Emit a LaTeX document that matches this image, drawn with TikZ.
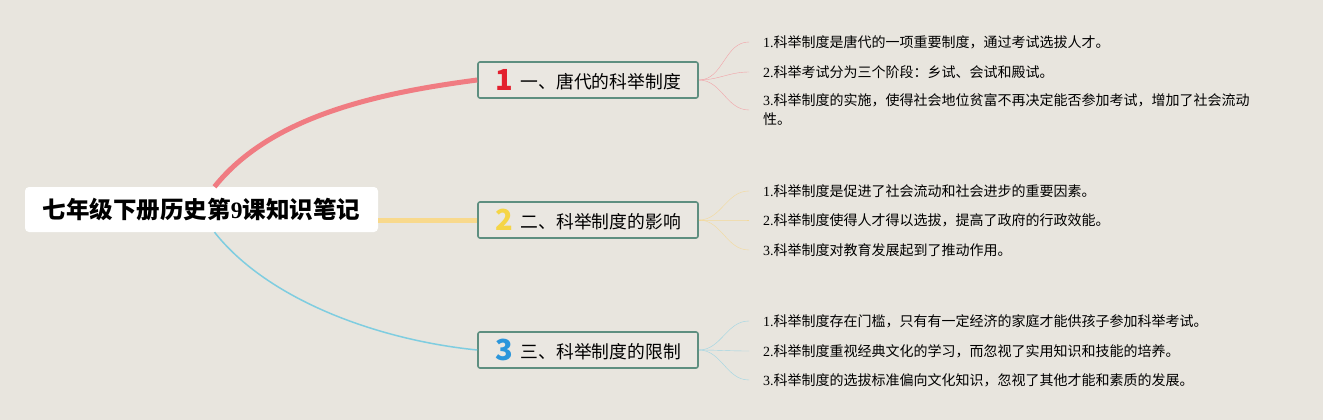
\documentclass[tikz,border=0pt]{standalone}
\usepackage{fontspec}
\setmainfont{Liberation Serif}
\newfontfamily\cjk{Noto Sans CJK SC}
\usepackage{tikz}
\usetikzlibrary{arrows.meta}

\definecolor{bg}{HTML}{E8E5DE}
\definecolor{boxfill}{HTML}{EAE7E1}
\definecolor{boxline}{HTML}{5E8F80}
\definecolor{lred}{HTML}{F07C82}
\definecolor{lyellow}{HTML}{F8D98C}
\definecolor{lblue}{HTML}{7FCDE0}
\definecolor{fred}{HTML}{F2A3A8}
\definecolor{fyellow}{HTML}{F4D99A}
\definecolor{fblue}{HTML}{9DD5E4}
\definecolor{nred}{HTML}{E3202E}
\definecolor{nyellow}{HTML}{F5D546}
\definecolor{nblue}{HTML}{2B96DB}

\newcommand\nb[2]{\raisebox{-2pt}{\fontsize{29}{29}\selectfont\bfseries\color{#1}#2}\hspace{8pt}}

\begin{document}
\begin{tikzpicture}[x=1pt, y=-1pt,
        root/.style={fill=white, rounded corners=4pt, minimum width=353pt, minimum height=45pt, inner sep=0pt, font=\cjk\bfseries\fontsize{23.5}{26}\selectfont},
        br/.style={draw=boxline, line width=1.6pt, fill=boxfill, rounded corners=2pt, minimum width=220pt, minimum height=36pt, inner sep=0pt, font=\cjk\fontsize{17.8}{20}\selectfont},
        lf/.style={anchor=west, inner xsep=14pt, inner ysep=0pt, align=left, font=\cjk\fontsize{14}{19}\selectfont},
        fan/.style={line width=0.8pt, out=0, in=180}
    ]
        \useasboundingbox[fill=bg] (0,0) rectangle (1323,420);

        \node[root] (root) at (201.5,209.5) {七年级下册历史第{\rmfamily 9}课知识笔记};

        \node[br] (b1) at (588,80)  {\nb{nred}{1}一、唐代的科举制度};
        \node[br] (b2) at (588,220) {\nb{nyellow}{2}二、科举制度的影响};
        \node[br] (b3) at (588,350) {\nb{nblue}{3}三、科举制度的限制};

        \node[lf] (l11) at (749,42)  {{\rmfamily 1.}科举制度是唐代的一项重要制度，通过考试选拔人才。};
        \node[lf] (l12) at (749,72)  {{\rmfamily 2.}科举考试分为三个阶段：乡试、会试和殿试。};
        \node[lf] (l13) at (749,110) {{\rmfamily 3.}科举制度的实施，使得社会地位贫富不再决定能否参加考试，增加了社会流动\\性。};

        \node[lf] (l21) at (749,191) {{\rmfamily 1.}科举制度是促进了社会流动和社会进步的重要因素。};
        \node[lf] (l22) at (749,220) {{\rmfamily 2.}科举制度使得人才得以选拔，提高了政府的行政效能。};
        \node[lf] (l23) at (749,250) {{\rmfamily 3.}科举制度对教育发展起到了推动作用。};

        \node[lf] (l31) at (749,321) {{\rmfamily 1.}科举制度存在门槛，只有有一定经济的家庭才能供孩子参加科举考试。};
        \node[lf] (l32) at (749,351) {{\rmfamily 2.}科举制度重视经典文化的学习，而忽视了实用知识和技能的培养。};
        \node[lf] (l33) at (749,380) {{\rmfamily 3.}科举制度的选拔标准偏向文化知识，忽视了其他才能和素质的发展。};

        \draw[lred, line width=5pt] ([xshift=13pt]root.north) .. controls (271,116) and (378,93) .. (b1.west);
        \draw[lyellow, line width=5pt] (root.east |- b2.west) -- (b2.west);
        \draw[lblue, line width=1.5pt] ([xshift=13pt]root.south) .. controls (268,300) and (378,340) .. (b3.west);

        \draw[fred] (b1.east) to[fan] (l11.west);
        \draw[fred] (b1.east) to[fan] (l12.west);
        \draw[fred] (b1.east) to[fan] (l13.west);
        \draw[fyellow] (b2.east) to[fan] (l21.west);
        \draw[fyellow] (b2.east) to[fan] (l22.west);
        \draw[fyellow] (b2.east) to[fan] (l23.west);
        \draw[fblue] (b3.east) to[fan] (l31.west);
        \draw[fblue] (b3.east) to[fan] (l32.west);
        \draw[fblue] (b3.east) to[fan] (l33.west);
    \end{tikzpicture}
\end{document}
